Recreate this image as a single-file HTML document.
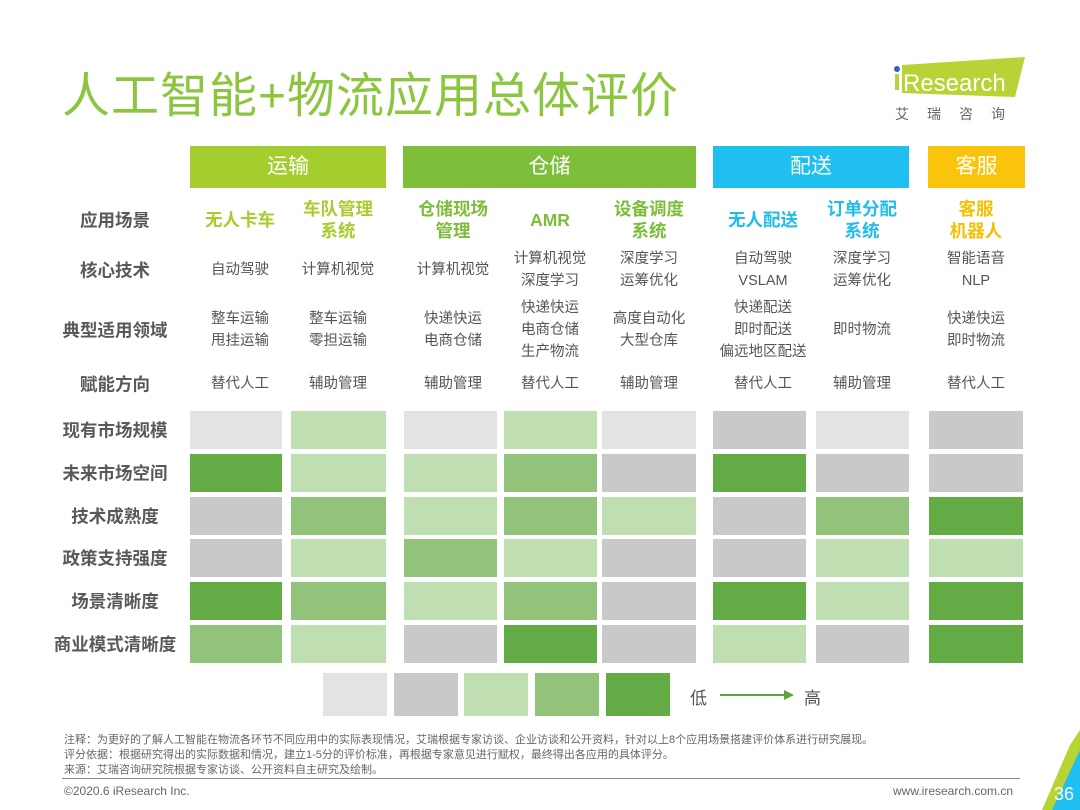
<!DOCTYPE html>
<html><head><meta charset="utf-8"><style>
body{margin:0;width:1080px;height:810px;background:#fff;position:relative;overflow:hidden;font-family:"Liberation Sans","Noto Sans CJK SC",sans-serif;color:#555}
.a{position:absolute}
.t{position:absolute;transform:translate(-50%,-50%);text-align:center;white-space:nowrap;font-size:14.5px;line-height:22px;color:#555}
.l{position:absolute;transform:translate(-50%,-50%);font-weight:bold;font-size:17.5px;color:#595959;white-space:nowrap}
.s{position:absolute;transform:translate(-50%,-50%);font-weight:bold;font-size:17.5px;line-height:22px;text-align:center;white-space:nowrap}
.h{position:absolute;top:146px;height:42px;color:#fff;font-size:21px;line-height:42px;text-align:center}
.c{position:absolute;height:38px}
.n{position:absolute;left:64px;font-size:11px;color:#666;white-space:nowrap}
</style></head><body>
<div class="a" style="left:62px;top:56px;font-size:48px;color:#8cc63e;white-space:nowrap;letter-spacing:1px">人工智能+物流应用总体评价</div>
<svg class="a" style="left:890px;top:55px" width="140" height="45"><polygon points="12,10 135,2 125,42 12,38" fill="#b8d335"/><circle cx="7" cy="14" r="3" fill="#2b67b0"/><rect x="5" y="19" width="4" height="16" fill="#b8d335"/><text x="13" y="36" font-family="Liberation Sans" font-size="24" fill="#fff">Research</text></svg>
<div class="a" style="left:895px;top:104px;font-size:14px;color:#666;letter-spacing:18px">艾瑞咨询</div>

<div class="h" style="left:190px;width:196px;background:#a6cd2e">运输</div>
<div class="h" style="left:403px;width:293px;background:#7dbe3b">仓储</div>
<div class="h" style="left:713px;width:196px;background:#1fc0ef">配送</div>
<div class="h" style="left:928px;width:97px;background:#fbc40c">客服</div>

<div class="l" style="left:115px;top:220px">应用场景</div>
<div class="l" style="left:115px;top:270px">核心技术</div>
<div class="l" style="left:115px;top:330px">典型适用领域</div>
<div class="l" style="left:115px;top:384px">赋能方向</div>
<div class="l" style="left:115px;top:430px">现有市场规模</div>
<div class="l" style="left:115px;top:473px">未来市场空间</div>
<div class="l" style="left:115px;top:516px">技术成熟度</div>
<div class="l" style="left:115px;top:558px">政策支持强度</div>
<div class="l" style="left:115px;top:601px">场景清晰度</div>
<div class="l" style="left:115px;top:644px">商业模式清晰度</div>

<div class="s" style="left:240px;top:220px;color:#a8cc2e">无人卡车</div>
<div class="s" style="left:338px;top:220px;color:#a8cc2e">车队管理<br>系统</div>
<div class="s" style="left:453px;top:220px;color:#7dbd3a">仓储现场<br>管理</div>
<div class="s" style="left:550px;top:220px;color:#7dbd3a">AMR</div>
<div class="s" style="left:649px;top:220px;color:#7dbd3a">设备调度<br>系统</div>
<div class="s" style="left:763px;top:220px;color:#1fbde8">无人配送</div>
<div class="s" style="left:862px;top:220px;color:#1fbde8">订单分配<br>系统</div>
<div class="s" style="left:976px;top:220px;color:#f5c000">客服<br>机器人</div>

<div class="t" style="left:240px;top:270px">自动驾驶</div>
<div class="t" style="left:338px;top:270px">计算机视觉</div>
<div class="t" style="left:453px;top:270px">计算机视觉</div>
<div class="t" style="left:550px;top:270px">计算机视觉<br>深度学习</div>
<div class="t" style="left:649px;top:270px">深度学习<br>运筹优化</div>
<div class="t" style="left:763px;top:270px">自动驾驶<br>VSLAM</div>
<div class="t" style="left:862px;top:270px">深度学习<br>运筹优化</div>
<div class="t" style="left:976px;top:270px">智能语音<br>NLP</div>

<div class="t" style="left:240px;top:330px">整车运输<br>甩挂运输</div>
<div class="t" style="left:338px;top:330px">整车运输<br>零担运输</div>
<div class="t" style="left:453px;top:330px">快递快运<br>电商仓储</div>
<div class="t" style="left:550px;top:330px">快递快运<br>电商仓储<br>生产物流</div>
<div class="t" style="left:649px;top:330px">高度自动化<br>大型仓库</div>
<div class="t" style="left:763px;top:330px">快递配送<br>即时配送<br>偏远地区配送</div>
<div class="t" style="left:862px;top:330px">即时物流</div>
<div class="t" style="left:976px;top:330px">快递快运<br>即时物流</div>

<div class="t" style="left:240px;top:384px">替代人工</div>
<div class="t" style="left:338px;top:384px">辅助管理</div>
<div class="t" style="left:453px;top:384px">辅助管理</div>
<div class="t" style="left:550px;top:384px">替代人工</div>
<div class="t" style="left:649px;top:384px">辅助管理</div>
<div class="t" style="left:763px;top:384px">替代人工</div>
<div class="t" style="left:862px;top:384px">辅助管理</div>
<div class="t" style="left:976px;top:384px">替代人工</div>

<div id="g"></div>
<script>
var C=['','#e3e3e3','#c9c9c9','#bfdfb3','#91c37b','#63ac45'];
var xs=[[190,92],[291,95],[404,93],[504,93],[602,94],[713,93],[816,93],[929,94]];
var ys=[411,454,497,539,582,625];
var v=[[1,3,1,3,1,2,1,2],[5,3,3,4,2,5,2,2],[2,4,3,4,3,2,4,5],[2,3,4,3,2,2,3,3],[5,4,3,4,2,5,3,5],[4,3,2,5,2,3,2,5]];
var h='';
for(var r=0;r<6;r++)for(var c=0;c<8;c++)h+='<div class="c" style="left:'+xs[c][0]+'px;top:'+ys[r]+'px;width:'+xs[c][1]+'px;background:'+C[v[r][c]]+'"></div>';
var lx=[323,394,464,535,606];
for(var i=0;i<5;i++)h+='<div class="c" style="left:'+lx[i]+'px;top:673px;width:64px;height:43px;background:'+C[i+1]+'"></div>';
document.getElementById('g').innerHTML=h;
</script>
<div class="a" style="left:690px;top:684px;font-size:17px;color:#555">低</div>
<svg class="a" style="left:718px;top:688px" width="80" height="14"><line x1="2" y1="7" x2="68" y2="7" stroke="#5aa83c" stroke-width="2"/><polygon points="66,2 76,7 66,12" fill="#5aa83c"/></svg>
<div class="a" style="left:804px;top:684px;font-size:17px;color:#555">高</div>

<div class="n" style="top:731px">注释：为更好的了解人工智能在物流各环节不同应用中的实际表现情况，艾瑞根据专家访谈、企业访谈和公开资料，针对以上8个应用场景搭建评价体系进行研究展现。</div>
<div class="n" style="top:746px">评分依据：根据研究得出的实际数据和情况，建立1-5分的评价标准，再根据专家意见进行赋权，最终得出各应用的具体评分。</div>
<div class="n" style="top:761px">来源：艾瑞咨询研究院根据专家访谈、公开资料自主研究及绘制。</div>
<div class="a" style="left:62px;top:778px;width:958px;height:1px;background:#888"></div>
<div class="a" style="left:64px;top:784px;font-size:12px;color:#666">©2020.6 iResearch Inc.</div>
<div class="a" style="left:893px;top:784px;font-size:12px;color:#666">www.iresearch.com.cn</div>
<svg class="a" style="left:1030px;top:730px" width="50" height="80"><polygon points="50,0 50,80 12,80 40,15" fill="#b8d335"/><polygon points="50,20 50,80 22,80" fill="#1fc0ef"/><text x="44" y="70" text-anchor="end" font-family="Liberation Sans" font-size="18" fill="#fff">36</text></svg>
</body></html>
